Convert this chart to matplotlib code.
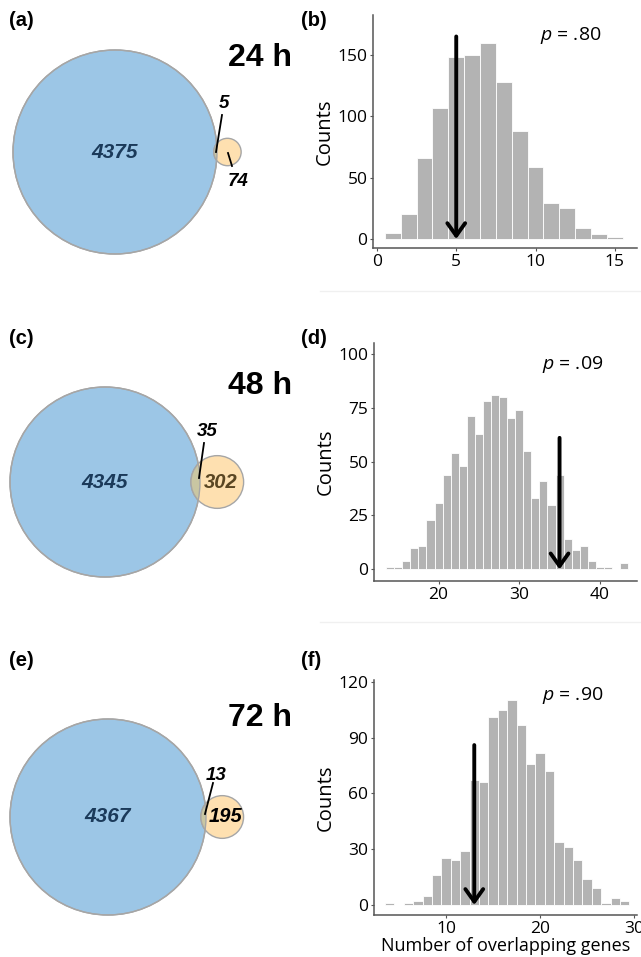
import numpy as np
import matplotlib
matplotlib.use("Agg")
import matplotlib.pyplot as plt
from matplotlib.patches import Circle

# venn counts (only set A, overlap, only set B) per time point
times = ["24 h", "48 h", "72 h"]
only_big = [4375, 4345, 4367]
overlap = [5, 35, 13]
only_small = [74, 302, 195]

# permutation histograms
b_bins = list(range(1, 16))
b_counts = [5, 20, 66, 107, 148, 150, 160, 128, 88, 59, 29, 25, 9, 4, 2]
d_bins = list(range(14, 44))
d_counts = [1, 1, 4, 10, 11, 23, 31, 44, 54, 48, 71, 63, 78, 81, 80,
            70, 74, 55, 33, 41, 30, 44, 14, 9, 11, 4, 1, 1, 0, 3]
f_bins = list(range(4, 30))
f_counts = [1, 0, 1, 2, 5, 16, 25, 24, 29, 67, 66, 101, 105, 110, 97,
            76, 82, 72, 34, 31, 24, 14, 9, 1, 4, 2]
p_values = [".80", ".09", ".90"]
arrow_top = [165, 61, 86]
y_ticks = [[0, 50, 100, 150], [0, 25, 50, 75, 100], [0, 30, 60, 90, 120]]
x_ticks = [[0, 5, 10, 15], [20, 30, 40], [10, 20, 30]]

plt.rcParams['mathtext.fontset'] = 'custom'
plt.rcParams['mathtext.it'] = 'Open Sans:italic'
plt.rcParams['mathtext.rm'] = 'Open Sans'

W, H = 641, 957
fig = plt.figure(figsize=(W / 100, H / 100), dpi=100)

# overlay axes in pixel coordinates for the venn diagrams and panel letters
ov = fig.add_axes([0, 0, 1, 1])
ov.set_xlim(0, W)
ov.set_ylim(H, 0)
ov.axis("off")


def lens_area(R, r, d):
    if d >= R + r:
        return 0.0
    if d <= abs(R - r):
        return np.pi * min(R, r) ** 2
    a1 = r * r * np.arccos((d * d + r * r - R * R) / (2 * d * r))
    a2 = R * R * np.arccos((d * d + R * R - r * r) / (2 * d * R))
    a3 = 0.5 * np.sqrt((-d + r + R) * (d + r - R) * (d - r + R) * (d + r + R))
    return a1 + a2 - a3


def center_dist(R, r, area):
    lo, hi = abs(R - r), R + r
    for _ in range(60):
        mid = (lo + hi) / 2
        if lens_area(R, r, mid) > area:
            lo = mid
        else:
            hi = mid
    return (lo + hi) / 2


blue = "#9cc6e6"
peach = "#fee0b0"
mix = "#c9c6a2"
edge = "#a6a6a6"

# layout of each venn (pixels)
big_centers = [(115, 152), (105, 482), (108, 817)]
big_radius = [102, 95, 98]
small_col = ["black", "#5a4622", "black"]
ov_lab = [(224, 104), (207, 431), (216, 775)]
ov_line = [((222, 115), (216, 152)), ((204, 443), (199, 478)), ((213, 783), (205, 814))]
time_pos = [(260, 58), (260, 386), (260, 718)]

for i in range(3):
    nA = only_big[i] + overlap[i]
    nB = only_small[i] + overlap[i]
    R = big_radius[i]
    r = R * np.sqrt(nB / nA)
    area = overlap[i] / nA * np.pi * R ** 2
    d = center_dist(R, r, area)
    cx, cy = big_centers[i]
    sx = cx + d
    big = Circle((cx, cy), R, facecolor=blue, edgecolor=edge, lw=1)
    ov.add_patch(big)
    ov.add_patch(Circle((sx, cy), r, facecolor=peach, edgecolor=edge, lw=1))
    lens = Circle((sx, cy), r, facecolor=mix, edgecolor=edge, lw=1)
    ov.add_patch(lens)
    lens.set_clip_path(big)
    ov.add_patch(Circle((cx, cy), R, facecolor="none", edgecolor=edge, lw=1))

    ov.text(cx, cy, str(only_big[i]), ha="center", va="center", fontsize=15,
            fontweight="bold", style="italic", color="#1b3a5a",
            family="Liberation Sans")
    ov.text(ov_lab[i][0], ov_lab[i][1], str(overlap[i]), ha="center", va="center",
            fontsize=13.5, fontweight="bold", style="italic", family="Liberation Sans")
    (x0, y0), (x1, y1) = ov_line[i]
    ov.plot([x0, x1], [y0, y1], color="black", lw=1.3)
    if i == 0:
        ov.text(238, 181, str(only_small[i]), ha="center", va="center", fontsize=13.5,
                fontweight="bold", style="italic", family="Liberation Sans")
        ov.plot([228, 232], [153, 166], color="black", lw=1.3)
    else:
        ov.text(sx + 3, cy, str(only_small[i]), ha="center", va="center", fontsize=14.5,
                fontweight="bold", style="italic", color=small_col[i],
                family="Liberation Sans")
    ov.text(time_pos[i][0], time_pos[i][1], times[i], ha="center", va="center",
            fontsize=23, fontweight="bold", family="Liberation Sans")

letters = [("(a)", 9, 21), ("(b)", 301, 21), ("(c)", 9, 339), ("(d)", 301, 339),
           ("(e)", 9, 660), ("(f)", 301, 660)]
for t, x, y in letters:
    ov.text(x, y, t, ha="left", va="center", fontsize=14.5, fontweight="bold",
            family="Liberation Sans")

# faint row separators
for y in [291, 622]:
    ov.plot([320, 641], [y, y], color="#f0f0f0", lw=1)

# histograms
boxes = [(373, 637, 15, 248), (374, 637, 343, 581), (374, 637, 680, 915)]
xlims = [(-0.25, 16.4), (12.0, 44.6), (2.34, 30.3)]
ylims = [(-7.3, 182.5), (-5.4, 105), (-5.4, 121)]
hist_data = [(b_bins, b_counts), (d_bins, d_counts), (f_bins, f_counts)]
p_pos = [(0.75, 0.91), (0.757, 0.908), (0.757, 0.936)]

for i in range(3):
    l, rr, t, b = boxes[i]
    ax = fig.add_axes([l / W, 1 - b / H, (rr - l) / W, (b - t) / H])
    ax.patch.set_alpha(0)
    xs, cs = hist_data[i]
    ax.bar(xs, cs, width=1, color="#b3b3b3", edgecolor="white", linewidth=0.6)
    ax.annotate("", xy=(overlap[i], 0), xytext=(overlap[i], arrow_top[i]),
                arrowprops=dict(arrowstyle="->,head_length=0.45,head_width=0.32",
                                lw=2.8, color="black", shrinkA=0, shrinkB=0,
                                mutation_scale=20))
    ax.text(p_pos[i][0], p_pos[i][1], "$p$ = " + p_values[i], transform=ax.transAxes,
            ha="center", va="center", fontsize=14, family="Open Sans")
    ax.set_xlim(*xlims[i])
    ax.set_ylim(*ylims[i])
    ax.set_xticks(x_ticks[i])
    ax.set_yticks(y_ticks[i])
    for s in ["top", "right"]:
        ax.spines[s].set_visible(False)
    for s in ["left", "bottom"]:
        ax.spines[s].set_color("#555555")
        ax.spines[s].set_linewidth(1.1)
    ax.tick_params(length=2.5, width=0.8, color="#555555", labelsize=12.5, pad=1.5)
    for lab in ax.get_xticklabels() + ax.get_yticklabels():
        lab.set_family("Open Sans")
    ax.set_ylabel("Counts", fontsize=14.5, family="Open Sans", labelpad=2)
    if i == 2:
        ax.set_xlabel("Number of overlapping genes", fontsize=13, family="Open Sans",
                      labelpad=0)

fig.savefig("out.png", dpi=100)
